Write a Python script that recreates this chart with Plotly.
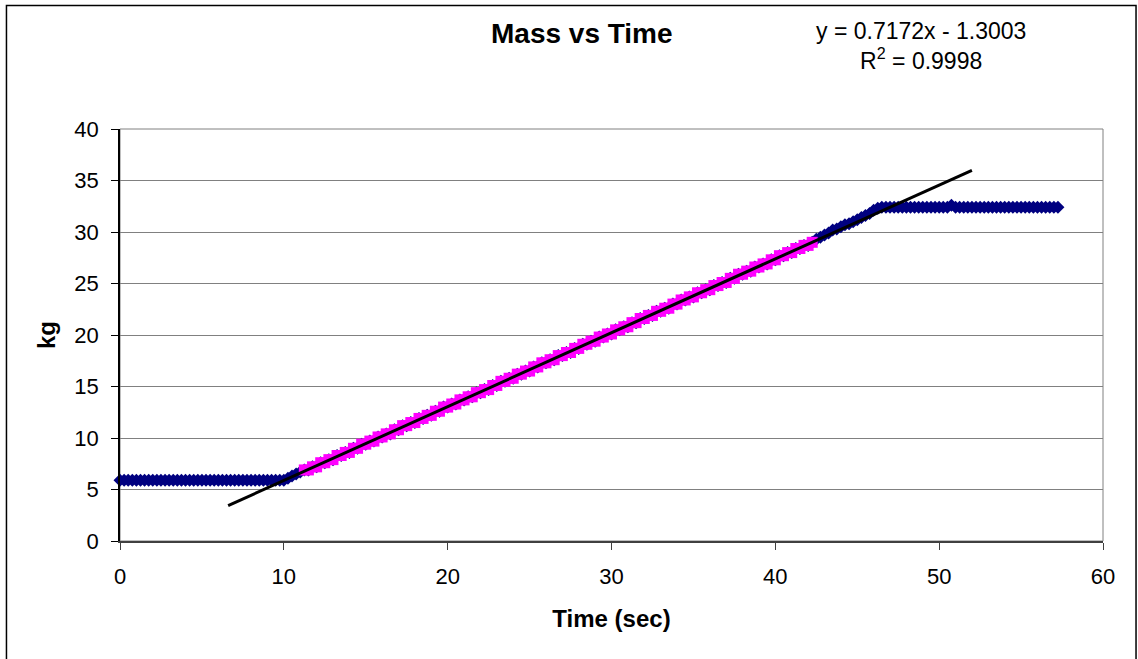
import plotly.graph_objects as go

# Scale readings: time (s) and mass (kg)
time_s = [
    0, 0.25, 0.5, 0.75, 1, 1.25, 1.5, 1.75, 2, 2.25, 2.5, 2.75,
    3, 3.25, 3.5, 3.75, 4, 4.25, 4.5, 4.75, 5, 5.25, 5.5, 5.75,
    6, 6.25, 6.5, 6.75, 7, 7.25, 7.5, 7.75, 8, 8.25, 8.5, 8.75,
    9, 9.25, 9.5, 9.75, 10, 10.25, 10.5, 10.75, 11, 11.25, 11.5, 11.75,
    12, 12.25, 12.5, 12.75, 13, 13.25, 13.5, 13.75, 14, 14.25, 14.5, 14.75,
    15, 15.25, 15.5, 15.75, 16, 16.25, 16.5, 16.75, 17, 17.25, 17.5, 17.75,
    18, 18.25, 18.5, 18.75, 19, 19.25, 19.5, 19.75, 20, 20.25, 20.5, 20.75,
    21, 21.25, 21.5, 21.75, 22, 22.25, 22.5, 22.75, 23, 23.25, 23.5, 23.75,
    24, 24.25, 24.5, 24.75, 25, 25.25, 25.5, 25.75, 26, 26.25, 26.5, 26.75,
    27, 27.25, 27.5, 27.75, 28, 28.25, 28.5, 28.75, 29, 29.25, 29.5, 29.75,
    30, 30.25, 30.5, 30.75, 31, 31.25, 31.5, 31.75, 32, 32.25, 32.5, 32.75,
    33, 33.25, 33.5, 33.75, 34, 34.25, 34.5, 34.75, 35, 35.25, 35.5, 35.75,
    36, 36.25, 36.5, 36.75, 37, 37.25, 37.5, 37.75, 38, 38.25, 38.5, 38.75,
    39, 39.25, 39.5, 39.75, 40, 40.25, 40.5, 40.75, 41, 41.25, 41.5, 41.75,
    42, 42.25, 42.5, 42.75, 43, 43.25, 43.5, 43.75, 44, 44.25, 44.5, 44.75,
    45, 45.25, 45.5, 45.75, 46, 46.25, 46.5, 46.75, 47, 47.25, 47.5, 47.75,
    48, 48.25, 48.5, 48.75, 49, 49.25, 49.5, 49.75, 50, 50.25, 50.5, 50.75,
    51, 51.25, 51.5, 51.75, 52, 52.25, 52.5, 52.75, 53, 53.25, 53.5, 53.75,
    54, 54.25, 54.5, 54.75, 55, 55.25, 55.5, 55.75, 56, 56.25, 56.5, 56.75,
    57, 57.25,
]
mass_kg = [
    5.9, 5.9, 5.9, 5.9, 5.9, 5.9, 5.9, 5.9, 5.9, 5.9, 5.9, 5.9,
    5.9, 5.9, 5.9, 5.9, 5.9, 5.9, 5.9, 5.9, 5.9, 5.9, 5.9, 5.9,
    5.9, 5.9, 5.9, 5.9, 5.9, 5.9, 5.9, 5.9, 5.9, 5.9, 5.9, 5.9,
    5.9, 5.9, 5.9, 5.9, 5.9, 6.1, 6.3, 6.5, 6.7, 6.9, 6.9, 7.2,
    7.2, 7.6, 7.6, 7.9, 7.9, 8.3, 8.3, 8.6, 8.6, 9.0, 9.0, 9.4,
    9.4, 9.7, 9.7, 10.1, 10.1, 10.4, 10.4, 10.8, 10.8, 11.2, 11.2, 11.5,
    11.5, 11.9, 11.9, 12.2, 12.2, 12.6, 12.6, 13.0, 13.0, 13.3, 13.3, 13.7,
    13.7, 14.0, 14.0, 14.4, 14.4, 14.7, 14.7, 15.1, 15.1, 15.5, 15.5, 15.8,
    15.8, 16.2, 16.2, 16.5, 16.5, 16.9, 16.9, 17.3, 17.3, 17.6, 17.6, 18.0,
    18.0, 18.3, 18.3, 18.7, 18.7, 19.1, 19.1, 19.4, 19.4, 19.8, 19.8, 20.1,
    20.1, 20.5, 20.5, 20.8, 20.8, 21.2, 21.2, 21.6, 21.6, 21.9, 21.9, 22.3,
    22.3, 22.6, 22.6, 23.0, 23.0, 23.4, 23.4, 23.7, 23.7, 24.1, 24.1, 24.4,
    24.4, 24.8, 24.8, 25.1, 25.1, 25.5, 25.5, 25.9, 25.9, 26.2, 26.2, 26.6,
    26.6, 26.9, 26.9, 27.3, 27.3, 27.7, 27.7, 28.0, 28.0, 28.4, 28.4, 28.7,
    28.7, 29.0, 29.3, 29.5, 29.7, 29.9, 30.2, 30.3, 30.5, 30.7, 30.8, 31.0,
    31.2, 31.4, 31.6, 31.8, 32.1, 32.3, 32.4, 32.4, 32.4, 32.4, 32.4, 32.4,
    32.4, 32.4, 32.4, 32.4, 32.4, 32.4, 32.4, 32.4, 32.4, 32.4, 32.4, 32.6,
    32.4, 32.4, 32.4, 32.4, 32.4, 32.4, 32.4, 32.4, 32.4, 32.4, 32.4, 32.4,
    32.4, 32.4, 32.4, 32.4, 32.4, 32.4, 32.4, 32.4, 32.4, 32.4, 32.4, 32.4,
    32.4, 32.4,
]

# Window of readings used for the linear fit (filling phase)
fit_start_s = 11.25
fit_end_s = 42.25

# Linear trendline reported for the fit window, and the span it is drawn over
slope = 0.7172
intercept = -1.3003
r_squared = 0.9998
trend_span_s = [6.6, 52.0]

fit_time = [t for t in time_s if fit_start_s <= t <= fit_end_s]
fit_mass = [m for t, m in zip(time_s, mass_kg) if fit_start_s <= t <= fit_end_s]
trend_mass = [slope * t + intercept for t in trend_span_s]

FONT = "Liberation Sans, Arial, sans-serif"

fig = go.Figure()
fig.add_trace(go.Scatter(
    x=time_s, y=mass_kg, mode="markers",
    marker=dict(symbol="diamond", size=10, color="#000080",
                line=dict(width=0)),
    showlegend=False, cliponaxis=False,
))
fig.add_trace(go.Scatter(
    x=fit_time, y=fit_mass, mode="markers",
    marker=dict(symbol="square", size=11, color="#FF00FF",
                line=dict(width=0)),
    showlegend=False,
))
fig.add_trace(go.Scatter(
    x=trend_span_s, y=trend_mass, mode="lines",
    line=dict(color="black", width=3),
    showlegend=False,
))

# Plot-area frame and outer chart border
fig.add_shape(type="rect", xref="paper", yref="paper", x0=0, y0=0, x1=1, y1=1,
              line=dict(color="#808080", width=1), layer="below")
fig.add_shape(type="rect", xref="paper", yref="paper",
              x0=-0.1155, y0=-0.30, x1=1.0336, y1=1.2998,
              line=dict(color="black", width=1.5), layer="below")

fig.add_annotation(
    text="<b>Mass vs Time</b>", xref="paper", yref="paper",
    x=(582 - 120) / 983, y=(541 - 33) / 412, showarrow=False,
    font=dict(family=FONT, size=28, color="black"),
    xanchor="center", yanchor="middle",
)
fig.add_annotation(
    text=f"y = {slope:.4f}x - {abs(intercept):.4f}<br>R<sup>2</sup> = {r_squared:.4f}",
    xref="paper", yref="paper",
    x=(921 - 120) / 983, y=(541 - 46) / 412, showarrow=False,
    font=dict(family=FONT, size=23, color="black"), align="center",
    xanchor="center", yanchor="middle",
)

fig.update_layout(
    width=1138, height=659,
    margin=dict(l=120, r=35, t=129, b=118),
    paper_bgcolor="white", plot_bgcolor="white",
    font=dict(family=FONT, size=22, color="black"),
    xaxis=dict(
        range=[0, 60], dtick=10, tick0=0,
        showgrid=False, zeroline=False,
        showline=True, linecolor="#404040", linewidth=1.5,
        ticks="outside", ticklen=7, tickcolor="#404040",
        ticklabelstandoff=8,
        tickfont=dict(family=FONT, size=22),
        title=dict(text="<b>Time (sec)</b>", font=dict(family=FONT, size=24),
                   standoff=22),
    ),
    yaxis=dict(
        range=[0, 40], dtick=5, tick0=0,
        showgrid=True, gridcolor="#808080", gridwidth=1, zeroline=False,
        showline=True, linecolor="black", linewidth=1.5,
        ticks="outside", ticklen=7, tickcolor="black",
        ticklabelstandoff=8,
        tickfont=dict(family=FONT, size=22),
        title=dict(text="<b>kg</b>", font=dict(family=FONT, size=24),
                   standoff=12),
    ),
)

fig.write_html("out.html")
